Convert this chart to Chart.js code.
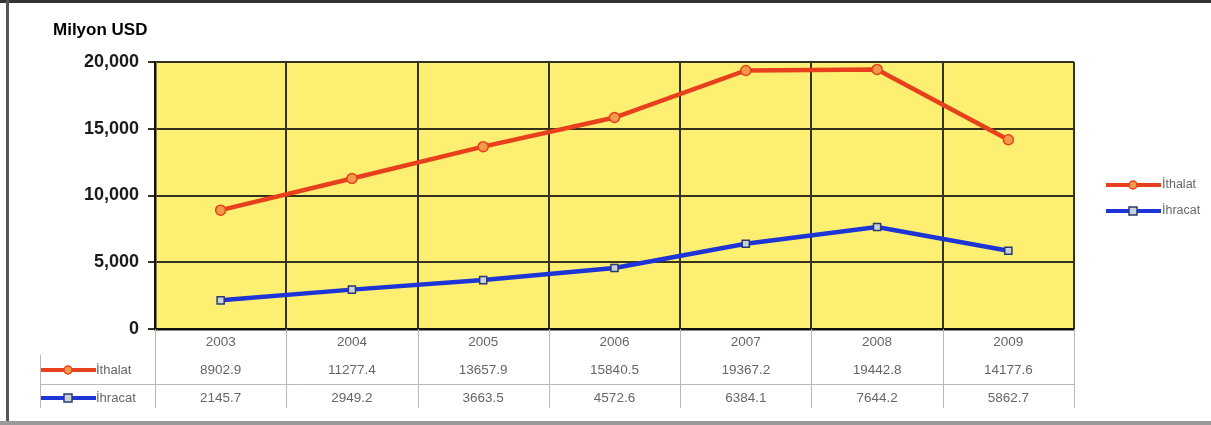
<!DOCTYPE html>
<html lang="tr">
<head>
<meta charset="utf-8">
<title>Milyon USD</title>
<script src="https://cdn.jsdelivr.net/npm/chart.js@4/dist/chart.umd.min.js"></script>
<style>
  html, body { margin: 0; padding: 0; background: #ffffff; }
  #wrap { position: relative; width: 1211px; height: 425px; }
</style>
</head>
<body>
<div id="wrap"><canvas id="chart" width="1211" height="425"></canvas></div>
<script>
  // Werte (Tabelle unter dem Diagramm).
  const years = ['2003', '2004', '2005', '2006', '2007', '2008', '2009'];
  const ithalat = [8902.9, 11277.4, 13657.9, 15840.5, 19367.2, 19442.8, 14177.6];
  const ihracat = [2145.7, 2949.2, 3663.5, 4572.6, 6384.1, 7644.2, 5862.7];
  const yTicks = [0, 5000, 10000, 15000, 20000];
  const seriesNames = ['İthalat', 'İhracat'];

  const RED = '#e8401c';
  const BLUE = '#1d35d6';
  const GRID = '#34321c';
  const PLOT_BG = '#fcef72';
  const TABLE_LINE = '#b8b8b8';
  const TEXT_GRAY = '#666666';
  const FONT = '"Liberation Sans", Arial, sans-serif';

  const seriesStyle = [
    { color: RED, pointStyle: 'circle', fill: '#f39a4a', border: RED },
    { color: BLUE, pointStyle: 'rect', fill: '#c9d2da', border: '#2a3a70' },
  ];

  function legendKey(ctx, x, y, style) {
    ctx.save();
    ctx.strokeStyle = style.color;
    ctx.lineWidth = 4;
    ctx.beginPath();
    ctx.moveTo(x, y);
    ctx.lineTo(x + 55, y);
    ctx.stroke();
    ctx.fillStyle = style.fill;
    ctx.strokeStyle = style.border;
    ctx.lineWidth = 1.5;
    if (style.pointStyle === 'rect') {
      ctx.fillRect(x + 23, y - 4, 8, 8);
      ctx.strokeRect(x + 23, y - 4, 8, 8);
    } else {
      ctx.beginPath();
      ctx.arc(x + 27, y, 4, 0, Math.PI * 2);
      ctx.fill();
      ctx.stroke();
    }
    ctx.restore();
  }

  // Hintergrund, Titel, Datentabelle, Legende rechts und Rahmen.
  const decorations = {
    id: 'decorations',
    beforeDraw(chart) {
      const { ctx, chartArea: a } = chart;
      ctx.save();
      ctx.fillStyle = PLOT_BG;
      ctx.fillRect(a.left, a.top, a.right - a.left, a.bottom - a.top);
      ctx.restore();
    },
    afterDraw(chart) {
      const { ctx, chartArea: a } = chart;
      const x = chart.scales.x;
      ctx.save();

      // Titel
      ctx.fillStyle = '#000000';
      ctx.font = 'bold 17px ' + FONT;
      ctx.textBaseline = 'middle';
      ctx.textAlign = 'left';
      ctx.fillText('Milyon USD', 53, 30);

      // Datentabelle
      const tableTop = a.bottom;
      const tableBottom = 408;
      const rowLine = 384;
      ctx.strokeStyle = TABLE_LINE;
      ctx.lineWidth = 1;
      const step = x.getPixelForValue(1) - x.getPixelForValue(0);
      for (let i = 0; i <= years.length; i++) {
        const px = Math.round(x.getPixelForValue(i) - step / 2) + 0.5;
        ctx.beginPath();
        ctx.moveTo(px, tableTop);
        ctx.lineTo(px, tableBottom);
        ctx.stroke();
      }
      ctx.beginPath();
      ctx.moveTo(40.5, 355);
      ctx.lineTo(40.5, tableBottom);
      ctx.moveTo(40, rowLine + 0.5);
      ctx.lineTo(a.right, rowLine + 0.5);
      ctx.stroke();

      ctx.fillStyle = TEXT_GRAY;
      ctx.font = '13.5px ' + FONT;
      ctx.textAlign = 'center';
      years.forEach((year, i) => {
        const px = x.getPixelForValue(i);
        ctx.fillText(year, px, 342);
        ctx.fillText(ithalat[i].toFixed(1), px, 370);
        ctx.fillText(ihracat[i].toFixed(1), px, 398);
      });

      // Legendenschlüssel in der Tabelle
      ctx.font = '13px ' + FONT;
      ctx.textAlign = 'left';
      [370, 398].forEach((ry, s) => {
        legendKey(ctx, 41, ry, seriesStyle[s]);
        ctx.fillStyle = TEXT_GRAY;
        ctx.fillText(seriesNames[s], 96, ry);
      });

      // Legende rechts
      ctx.font = '12.5px ' + FONT;
      [185, 211].forEach((ry, s) => {
        legendKey(ctx, 1106, ry, seriesStyle[s]);
        ctx.fillStyle = TEXT_GRAY;
        ctx.fillText(seriesNames[s], 1162, ry);
      });

      // Rahmen
      ctx.fillStyle = '#333333';
      ctx.fillRect(0, 0, 1211, 3);
      ctx.fillStyle = '#555555';
      ctx.fillRect(6, 0, 3, 425);
      ctx.fillStyle = '#999999';
      ctx.fillRect(0, 421, 1211, 4);
      ctx.restore();
    },
  };

  const makeDataset = (label, values, style) => ({
    label,
    data: values,
    borderColor: style.color,
    borderWidth: 4.5,
    pointStyle: style.pointStyle,
    pointRadius: 5,
    pointBackgroundColor: style.fill,
    pointBorderColor: style.border,
    pointBorderWidth: 1.5,
    tension: 0,
  });

  new Chart(document.getElementById('chart'), {
    type: 'line',
    data: {
      labels: years,
      datasets: [
        makeDataset(seriesNames[0], ithalat, seriesStyle[0]),
        makeDataset(seriesNames[1], ihracat, seriesStyle[1]),
      ],
    },
    options: {
      responsive: false,
      animation: false,
      layout: { padding: { left: 75, right: 137, top: 62, bottom: 0 } },
      plugins: {
        legend: { display: false },
        tooltip: { enabled: false },
      },
      scales: {
        x: {
          offset: true,
          grid: { color: GRID, lineWidth: 2, offset: true, drawTicks: false },
          border: { color: '#111111', width: 2.5 },
          ticks: { display: false },
          afterFit(scale) { scale.height = 96; },
        },
        y: {
          min: 0,
          max: 20000,
          afterBuildTicks(scale) {
            scale.ticks = yTicks.map((value) => ({ value }));
          },
          afterFit(scale) { scale.width = 80; },
          grid: { color: GRID, lineWidth: 2, tickLength: 7 },
          border: { color: '#111111', width: 2.5 },
          ticks: {
            padding: 9,
            color: '#1a1a1a',
            font: { family: FONT, size: 18, weight: 'bold' },
            callback: (value) => value.toLocaleString('en-US'),
          },
        },
      },
    },
    plugins: [decorations],
  });
</script>
</body>
</html>
